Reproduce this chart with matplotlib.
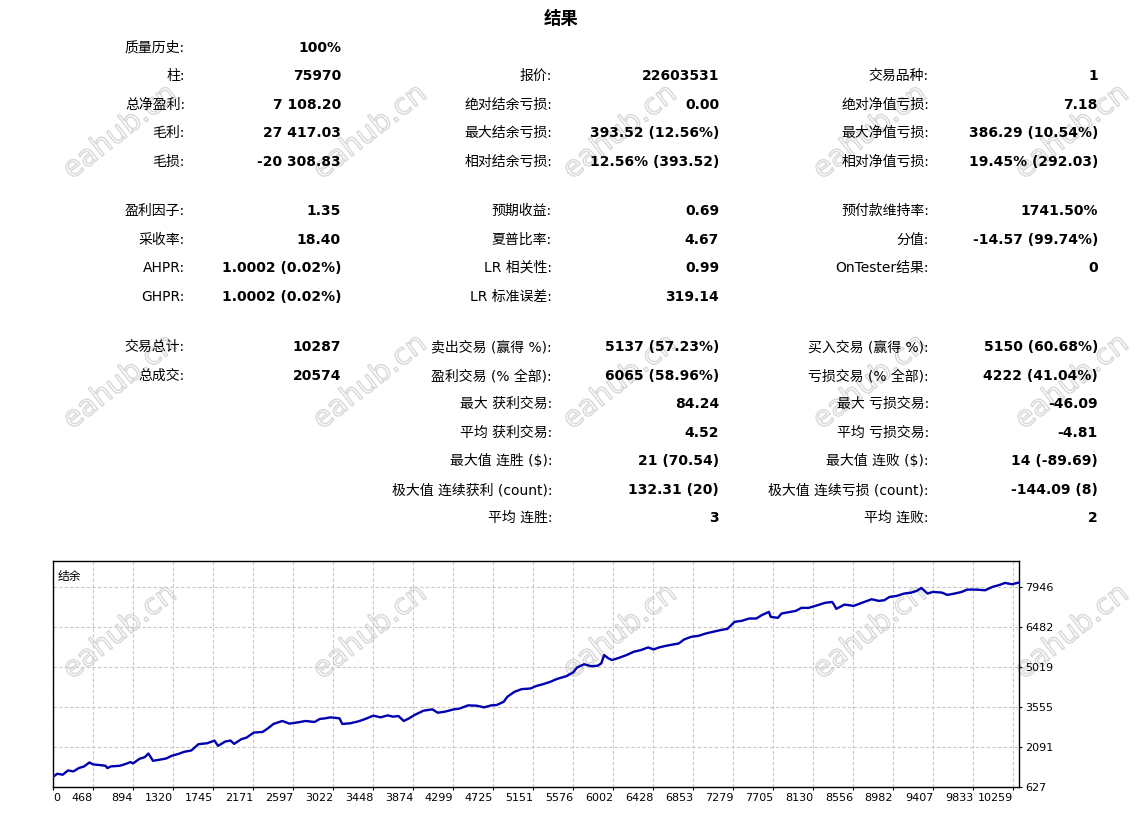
import matplotlib.pyplot as plt
from matplotlib import patheffects

W, H = 1145, 813

title = "结果"

# --- report table ---
row_y = [48, 76, 105, 133, 162, 211, 240, 268, 297, 347, 376, 404, 433, 461, 490, 518]

labels1 = ["质量历史:", "柱:", "总净盈利:", "毛利:", "毛损:",
           "盈利因子:", "采收率:", "AHPR:", "GHPR:",
           "交易总计:", "总成交:", "", "", "", "", ""]
values1 = ["100%", "75970", "7 108.20", "27 417.03", "-20 308.83",
           "1.35", "18.40", "1.0002 (0.02%)", "1.0002 (0.02%)",
           "10287", "20574", "", "", "", "", ""]

labels2 = ["", "报价:", "绝对结余亏损:", "最大结余亏损:", "相对结余亏损:",
           "预期收益:", "夏普比率:", "LR 相关性:", "LR 标准误差:",
           "卖出交易 (赢得 %):", "盈利交易 (% 全部):", "最大 获利交易:", "平均 获利交易:",
           "最大值 连胜 ($):", "极大值 连续获利 (count):", "平均 连胜:"]
values2 = ["", "22603531", "0.00", "393.52 (12.56%)", "12.56% (393.52)",
           "0.69", "4.67", "0.99", "319.14",
           "5137 (57.23%)", "6065 (58.96%)", "84.24", "4.52",
           "21 (70.54)", "132.31 (20)", "3"]

labels3 = ["", "交易品种:", "绝对净值亏损:", "最大净值亏损:", "相对净值亏损:",
           "预付款维持率:", "分值:", "OnTester结果:", "",
           "买入交易 (赢得 %):", "亏损交易 (% 全部):", "最大 亏损交易:", "平均 亏损交易:",
           "最大值 连败 ($):", "极大值 连续亏损 (count):", "平均 连败:"]
values3 = ["", "1", "7.18", "386.29 (10.54%)", "19.45% (292.03)",
           "1741.50%", "-14.57 (99.74%)", "0", "",
           "5150 (60.68%)", "4222 (41.04%)", "-46.09", "-4.81",
           "14 (-89.69)", "-144.09 (8)", "2"]

# --- balance curve ---
trade_no = [42, 88, 145, 202, 259, 316, 373, 430, 468, 544, 601, 620, 658, 753, 810,
            867, 894, 962, 1019, 1057, 1106, 1171, 1247, 1304, 1380, 1437, 1513, 1589,
            1684, 1760, 1798, 1874, 1931, 1969, 2045, 2102, 2178, 2273, 2330, 2387, 2482,
            2558, 2672, 2729, 2824, 2881, 2938, 2995, 3090, 3120, 3204, 3280, 3337, 3451,
            3527, 3603, 3660, 3717, 3774, 3831, 3888, 3983, 4078, 4135, 4211, 4306, 4363,
            4401, 4458, 4553, 4629, 4705, 4762, 4838, 4876, 4952, 5028, 5123, 5180, 5256,
            5332, 5408, 5503, 5579, 5617, 5693, 5769, 5837, 5875, 5906, 5952, 5990, 6067,
            6144, 6221, 6297, 6374, 6432, 6490, 6566, 6643, 6700, 6757, 6834, 6911, 6988,
            7064, 7141, 7218, 7294, 7371, 7448, 7525, 7582, 7659, 7678, 7755, 7793, 7870,
            7946, 8004, 8081, 8176, 8253, 8330, 8349, 8376, 8464, 8560, 8656, 8752, 8828,
            8886, 8943, 9020, 9097, 9174, 9231, 9281, 9346, 9404, 9500, 9557, 9634, 9711,
            9768, 9864, 9960, 10036, 10113, 10171, 10247, 10286, 10318]
balance = [1000, 1113, 1076, 1234, 1197, 1319, 1380, 1525, 1453, 1428, 1404, 1319, 1380,
           1404, 1465, 1538, 1489, 1659, 1720, 1853, 1586, 1622, 1671, 1768, 1841, 1914,
           1962, 2193, 2229, 2327, 2132, 2290, 2327, 2205, 2375, 2436, 2618, 2642, 2776,
           2934, 3043, 2946, 3006, 3043, 3006, 3116, 3140, 3176, 3140, 2934, 2958, 3019,
           3080, 3237, 3176, 3249, 3200, 3225, 3043, 3140, 3261, 3419, 3468, 3346, 3383,
           3468, 3492, 3541, 3614, 3601, 3541, 3614, 3626, 3747, 3929, 4111, 4208, 4232,
           4318, 4390, 4475, 4585, 4682, 4827, 4997, 5119, 5046, 5065, 5150, 5455, 5333,
           5272, 5357, 5455, 5576, 5637, 5734, 5661, 5734, 5795, 5844, 5880, 6026, 6124,
           6160, 6245, 6306, 6367, 6415, 6671, 6707, 6792, 6792, 6914, 7035, 6853, 6817,
           6975, 7023, 7072, 7181, 7181, 7278, 7364, 7400, 7315, 7145, 7303, 7254, 7376,
           7498, 7437, 7461, 7583, 7620, 7705, 7741, 7802, 7911, 7705, 7766, 7741, 7656,
           7705, 7766, 7851, 7851, 7826, 7948, 8021, 8094, 8045, 8082, 8108]

x_ticks = [468, 894, 1320, 1745, 2171, 2597, 3022, 3448, 3874, 4299, 4725, 5151, 5576,
           6002, 6428, 6853, 7279, 7705, 8130, 8556, 8982, 9407, 9833, 10259]
y_ticks = [627, 2091, 3555, 5019, 6482, 7946]

plt.rcParams['font.family'] = ['DejaVu Sans', 'Noto Sans CJK SC']

fig = plt.figure(figsize=(W / 100, H / 100), dpi=100)
fig.patch.set_facecolor('white')


def fx(x):
    return x / W


def fy(y):
    return 1 - y / H


# watermark, outline only
wm_fx = [patheffects.withStroke(linewidth=1.0, foreground='#d8d8d8')]
for j in range(3):
    for k in range(5):
        cx = 120 + 250 * k if k < 4 else 1072
        fig.text(fx(cx), fy(132 + 250 * j), "eahub.cn", fontsize=21,
                 rotation=38, color=(1, 1, 1, 0), ha='center', va='center',
                 family=['DejaVu Sans'], path_effects=wm_fx, zorder=0)

fig.text(fx(561), fy(19), title, fontsize=12.5, fontweight='bold',
         ha='center', va='center', family=['Noto Sans CJK SC'])

cols = [(185, 341, labels1, values1), (552, 719, labels2, values2), (929, 1098, labels3, values3)]
for lx, vx, labs, vals in cols:
    for y, lab, val in zip(row_y, labs, vals):
        if lab:
            fig.text(fx(lx), fy(y), lab, fontsize=10, ha='right', va='center', zorder=3)
        if val:
            fig.text(fx(vx), fy(y), val, fontsize=10, fontweight='bold', ha='right',
                     va='center', zorder=3)

# chart
ax = fig.add_axes([fx(53), fy(787), fx(1019) - fx(53), fy(561) - fy(787)])
ax.set_zorder(2)
ax.set_facecolor('none')
ax.plot(trade_no, balance, color='#0000b0', lw=1.7, zorder=3)
ax.set_xlim(42, 10320)
ax.set_ylim(627, 8897)

ax.set_xticks([42] + x_ticks)
ax.set_xticklabels(["0"] + [str(t) for t in x_ticks], fontsize=8)
for i, t in enumerate(ax.get_xticklabels()):
    t.set_ha('left' if i == 0 else 'right')
ax.set_yticks(y_ticks)
ax.set_yticklabels([str(t) for t in y_ticks], fontsize=8)
ax.yaxis.tick_right()
ax.tick_params(axis='both', length=2.5, width=0.8, pad=2)
ax.grid(True, color='#c8c8c8', linestyle=(0, (3, 2)), linewidth=0.8)
for s in ax.spines.values():
    s.set_linewidth(1)
    s.set_color('black')
ax.text(0.005, 0.96, "结余", transform=ax.transAxes, fontsize=8.5, ha='left', va='top',
        family=['Noto Sans CJK SC'])

fig.savefig("out.png", dpi=100)
